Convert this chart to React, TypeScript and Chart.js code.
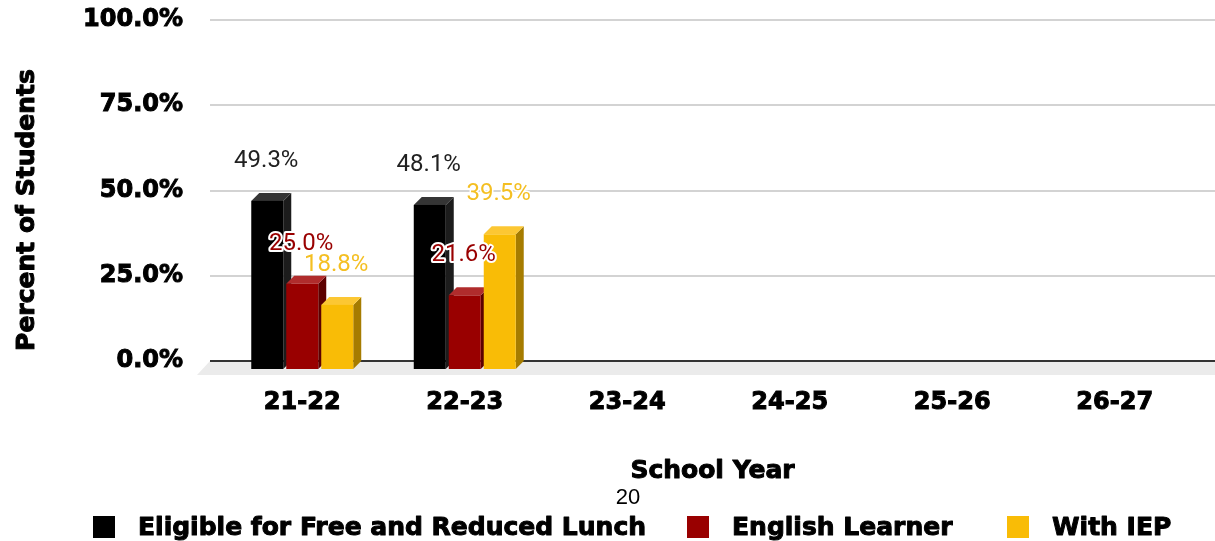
import React, { useEffect, useRef } from 'react';
import { Chart, registerables } from 'chart.js';

Chart.register(...registerables);

// ---- data ----
const categories = ['21-22', '22-23', '23-24', '24-25', '25-26', '26-27'];
const seriesNames = ['Eligible for Free and Reduced Lunch', 'English Learner', 'With IEP'];
const freeReducedLunch: (number | null)[] = [49.3, 48.1, null, null, null, null];
const englishLearner: (number | null)[] = [25.0, 21.6, null, null, null, null];
const withIEP: (number | null)[] = [18.8, 39.5, null, null, null, null];
const yTicks = [0, 25, 50, 75, 100];
const xTitle = 'School Year';
const yTitle = 'Percent of Students';
const pageNumber = '20';

// ---- styles ----
const frontColors = ['#000000', '#990000', '#f9bc06'];
const topColors = ['#353535', '#b02c2c', '#fcc733'];
const sideColors = ['#1c1c1c', '#5c0000', '#a67c00'];
const labelColors = ['#212121', '#990000', '#f4bf22'];
const labelHalo = [0, 4, 3];
const HEAVY = 'DejaVu Sans';
const HEAVY_STROKE = 1.0;
const DX = 8;
const DY = 8;

function heavyText(ctx: any, text: string, x: number, y: number) {
  ctx.lineJoin = 'round';
  ctx.lineWidth = HEAVY_STROKE;
  ctx.strokeStyle = '#000000';
  ctx.strokeText(text, x, y);
  ctx.fillText(text, x, y);
}

const bars3d = {
  id: 'bars3d',
  beforeDatasetsDraw(chart: any) {
    const { ctx, chartArea, scales } = chart;
    const y = scales.y;
    const left = chartArea.left - 11;
    const right = chart.width;
    const y0 = Math.round(y.getPixelForValue(0));
    ctx.save();
    // floor
    ctx.fillStyle = '#ebebeb';
    ctx.beginPath();
    ctx.moveTo(left, y0);
    ctx.lineTo(right, y0);
    ctx.lineTo(right, y0 + 14);
    ctx.lineTo(left - 13, y0 + 14);
    ctx.closePath();
    ctx.fill();
    // grid lines
    y.ticks.forEach((t: any) => {
      if (t.value === 0) return;
      const py = Math.round(y.getPixelForValue(t.value));
      ctx.strokeStyle = '#d3d3d3';
      ctx.lineWidth = 2;
      ctx.beginPath();
      ctx.moveTo(left, py);
      ctx.lineTo(right, py);
      ctx.stroke();
    });
    // baseline
    ctx.strokeStyle = '#333333';
    ctx.lineWidth = 2;
    ctx.beginPath();
    ctx.moveTo(left, y0);
    ctx.lineTo(right, y0);
    ctx.stroke();
    ctx.restore();
  },
  afterDatasetsDraw(chart: any) {
    const { ctx } = chart;
    const n = chart.data.labels.length;
    const nd = chart.data.datasets.length;
    const labels: any[] = [];
    ctx.save();
    for (let i = 0; i < n; i++) {
      for (let d = 0; d < nd; d++) {
        const v = chart.data.datasets[d].data[i];
        if (v == null) continue;
        const el = chart.getDatasetMeta(d).data[i];
        const { x, y, base, width } = el.getProps(['x', 'y', 'base', 'width'], true);
        const fl = x - width / 2 + 1.5;
        const fr = x + width / 2 - 1.5;
        const ft = y + DY;
        const fb = base + DY;
        // side
        ctx.fillStyle = sideColors[d];
        ctx.beginPath();
        ctx.moveTo(fr, ft);
        ctx.lineTo(fr + DX, ft - DY);
        ctx.lineTo(fr + DX, fb - DY);
        ctx.lineTo(fr, fb);
        ctx.closePath();
        ctx.fill();
        // top
        ctx.fillStyle = topColors[d];
        ctx.beginPath();
        ctx.moveTo(fl, ft);
        ctx.lineTo(fr, ft);
        ctx.lineTo(fr + DX, ft - DY);
        ctx.lineTo(fl + DX, ft - DY);
        ctx.closePath();
        ctx.fill();
        // front
        ctx.fillStyle = frontColors[d];
        ctx.fillRect(fl, ft, fr - fl, fb - ft);
        labels.push({ x: (fl + fr) / 2 - 1, y: y - 32, text: Number(v).toFixed(1) + '%', d });
      }
    }
    ctx.font = '24px Roboto';
    ctx.textAlign = 'center';
    ctx.textBaseline = 'middle';
    ctx.lineJoin = 'round';
    labels.forEach((l) => {
      if (labelHalo[l.d] > 0) {
        ctx.strokeStyle = '#ffffff';
        ctx.lineWidth = labelHalo[l.d];
        ctx.strokeText(l.text, l.x, l.y);
      }
      ctx.fillStyle = labelColors[l.d];
      ctx.fillText(l.text, l.x, l.y);
    });
    ctx.restore();
  },
  afterDraw(chart: any) {
    const { ctx, chartArea } = chart;
    ctx.save();
    // y axis title
    ctx.fillStyle = '#000000';
    ctx.font = `bold 25px "${HEAVY}"`;
    ctx.textAlign = 'center';
    ctx.textBaseline = 'middle';
    ctx.translate(27, 210);
    ctx.rotate(-Math.PI / 2);
    heavyText(ctx, yTitle, 0, 0);
    ctx.restore();

    // x axis title
    ctx.save();
    ctx.fillStyle = '#000000';
    ctx.font = `bold 25px "${HEAVY}"`;
    ctx.textAlign = 'center';
    ctx.textBaseline = 'middle';
    heavyText(ctx, xTitle, (chartArea.left + chartArea.right) / 2 + 4, chartArea.bottom + 110);
    ctx.restore();

    // page number
    ctx.save();
    ctx.fillStyle = '#000000';
    ctx.font = '22px "Liberation Sans"';
    ctx.textAlign = 'center';
    ctx.textBaseline = 'middle';
    ctx.fillText(pageNumber, 628, 498);
    ctx.restore();

    // legend
    ctx.save();
    ctx.font = `bold 25px "${HEAVY}"`;
    ctx.textBaseline = 'middle';
    ctx.textAlign = 'left';
    const boxX = [93, 687, 1007];
    const ly = 527;
    seriesNames.forEach((name, i) => {
      ctx.fillStyle = frontColors[i];
      ctx.fillRect(boxX[i], ly - 11, 22, 22);
      ctx.fillStyle = '#000000';
      heavyText(ctx, name, boxX[i] + 45, ly + 1);
    });
    ctx.restore();
  },
};

export default function App() {
  const ref = useRef<HTMLCanvasElement>(null);
  useEffect(() => {
    if (!ref.current) return;
    const datasets = [freeReducedLunch, englishLearner, withIEP].map((data, i) => ({
      label: seriesNames[i],
      data,
      backgroundColor: 'rgba(0,0,0,0)',
      borderWidth: 0,
      categoryPercentage: 0.646,
      barPercentage: 1,
    }));
    const chart = new Chart(ref.current, {
      type: 'bar',
      data: { labels: categories, datasets },
      plugins: [bars3d],
      options: {
        responsive: false,
        animation: false,
        events: [],
        layout: { padding: { top: 20, right: 19, bottom: 57, left: 0 } },
        plugins: {
          legend: { display: false },
          tooltip: { enabled: false },
          title: { display: false },
        },
        scales: {
          x: {
            grid: { display: false, drawTicks: false },
            border: { display: false },
            ticks: {
              padding: 27,
              color: '#000000',
              textStrokeColor: '#000000',
              textStrokeWidth: HEAVY_STROKE,
              font: { family: HEAVY, weight: 'bold', size: 24 },
              maxRotation: 0,
            },
            title: { display: false },
            afterFit: (s: any) => {
              s.height = 123;
              s.paddingLeft = 0;
              s.paddingRight = 0;
            },
          },
          y: {
            min: 0,
            max: 100,
            afterBuildTicks: (s: any) => {
              s.ticks = yTicks.map((v) => ({ value: v }));
            },
            grid: { display: false, drawTicks: false },
            border: { display: false },
            ticks: {
              padding: 38,
              color: '#000000',
              textStrokeColor: '#000000',
              textStrokeWidth: HEAVY_STROKE,
              font: { family: HEAVY, weight: 'bold', size: 24 },
              callback: (v: any) => Number(v).toFixed(1) + '%',
            },
            afterFit: (s: any) => {
              s.width = 221;
              s.paddingTop = 0;
              s.paddingBottom = 0;
            },
          },
        },
      },
    } as any);
    return () => chart.destroy();
  }, []);
  return (
    <div style={{ position: 'fixed', left: 0, top: 0, width: 1215, height: 541, background: '#ffffff' }}>
      <canvas ref={ref} width={1215} height={541} style={{ display: 'block' }} />
    </div>
  );
}
